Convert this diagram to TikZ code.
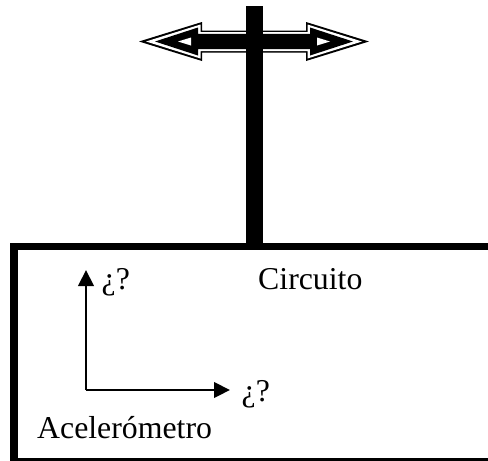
\documentclass[tikz,border=0pt]{standalone}
\usepackage{fontspec}
\setmainfont{Liberation Serif}
\usetikzlibrary{arrows.meta}
\tikzset{
  lbl/.style={inner sep=0pt,font=\fontsize{31.8}{36}\selectfont},
  axisline/.style={line width=2.2pt,-{Triangle[length=16pt,width=15.5pt]}}
}
\begin{document}
\begin{tikzpicture}[x=1pt,y=-1pt]
\useasboundingbox (0,0) rectangle (488,461);
% double arrow: outer black, white, inner black
\fill[black] (139,41.5) -- (202,22) -- (202,30.5) -- (306,30.5) -- (306,22) -- (369,41.5) -- (306,61) -- (306,52.5) -- (202,52.5) -- (202,61) -- cycle;
\fill[white] (146,41.5) -- (200.5,24.5) -- (200.5,32) -- (307.5,32) -- (307.5,24.5) -- (362,41.5) -- (307.5,58.5) -- (307.5,51) -- (200.5,51) -- (200.5,58.5) -- cycle;
\fill[black] (155,41.5) -- (198,27.5) -- (198,33.8) -- (310,33.8) -- (310,27.5) -- (353,41.5) -- (310,55.5) -- (310,49) -- (198,49) -- (198,55.5) -- cycle;
\fill[white] (178,41.5) -- (191,37.5) -- (191,45.5) -- cycle;
\fill[white] (330,41.5) -- (317,37.5) -- (317,45.5) -- cycle;
% vertical bar
\fill[black] (246,6) rectangle (263,246);
% box
\fill[black] (10,242.5) rectangle (488,250);
\fill[black] (10,242.5) rectangle (18,461);
\fill[black] (10,458.3) rectangle (488,461);
\coordinate (c) at (86,390);
\coordinate (u) at (86,270);
\coordinate (r) at (230,390);
\draw[axisline] (c) -- (u);
\draw[axisline] (c) -- (r);
\node[lbl,anchor=base west] (q1) at (101.5,289.5) {¿?};
\node[lbl,anchor=base west] (q2) at (241.5,401.5) {¿?};
\node[lbl,anchor=base west] (circ) at (258,289.5) {Circuito};
\node[lbl,anchor=base west] (acel) at (37,438) {Acelerómetro};
\end{tikzpicture}
\end{document}
